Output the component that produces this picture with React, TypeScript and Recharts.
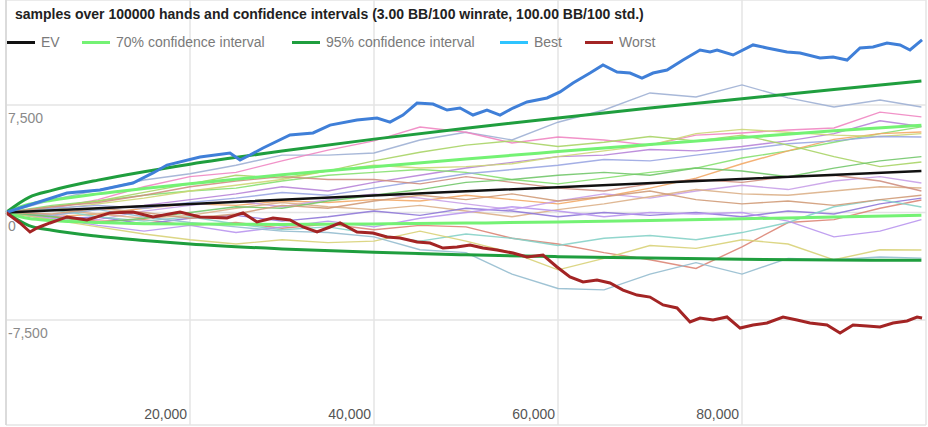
import React from 'react';
import { LineChart, Line, XAxis, YAxis, CartesianGrid } from 'recharts';

const TITLE = 'samples over 100000 hands and confidence intervals (3.00 BB/100 winrate, 100.00 BB/100 std.)';

const xTicks = [20000, 40000, 60000, 80000];
const yTicks = [-7500, 0, 7500];

const hands = [0, 5000, 10000, 15000, 20000, 25000, 30000, 35000, 40000, 45000, 50000, 55000, 60000, 65000, 70000, 75000, 80000, 85000, 90000, 95000, 99500];

const sampleA = [0, 870, 1570, 2270, 2700, 3300, 4000, 4000, 4150, 5060, 5600, 5060, 6300, 7150, 8340, 8060, 8900, 8000, 7360, 7850, 7360];
const sampleB = [0, 300, 900, 1800, 2500, 2800, 3600, 4350, 5000, 5960, 5600, 4850, 5270, 5060, 4700, 5400, 5550, 5760, 5900, 7000, 6670];
const sampleC = [0, -200, 200, 500, 900, 1300, 1800, 1500, 2100, 2600, 3100, 3500, 3900, 4000, 4400, 4300, 4600, 5000, 5500, 6400, 6000];
const sampleD = [0, 500, 800, 1200, 1500, 1700, 2200, 2600, 2800, 3000, 2800, 2300, 2000, 2400, 2800, 3100, 3800, 4300, 4900, 5500, 5970];
const sampleE = [0, -300, -100, 300, 600, 500, 800, 700, 900, 800, 1200, 900, 600, 1100, 1700, 2400, 3400, 4300, 5100, 5500, 5620];
const sampleF = [0, 200, 600, 1000, 1500, 1900, 2300, 2900, 3300, 3100, 3200, 3400, 3900, 4300, 4700, 5500, 5800, 5600, 5400, 5300, 5500];
const sampleG = [0, 300, 500, 300, 700, 1000, 1400, 1200, 1700, 2200, 2700, 3000, 3300, 3700, 3600, 4000, 4400, 4800, 5000, 5300, 5270];
const sampleH = [0, 400, 800, 1400, 2000, 2600, 2400, 2900, 3600, 4200, 4700, 5000, 4600, 4900, 5300, 5000, 5400, 4700, 3900, 3200, 3520];
const sampleI = [0, -200, -500, 100, 500, 800, 400, 900, 1300, 1000, 600, 200, 800, 1300, 1000, 1500, 1900, 1600, 2200, 2500, 2060];
const sampleJ = [0, 200, -100, -400, -200, 300, 700, 400, 200, 500, 100, -300, 200, 600, 1100, 1600, 1300, 1200, 1500, 1800, 1710];
const sampleK = [0, -300, -600, -500, -900, -700, -1100, -800, -1200, -900, -1000, -1800, -2200, -2800, -3300, -3900, -2400, -700, -500, 300, 870];
const sampleL = [0, 400, 700, 1200, 1800, 2200, 2500, 2300, 2300, 2000, 2500, 2100, 1700, 1500, 2000, 2300, 2100, 2500, 2600, 2200, 1500];
const sampleM = [0, -500, -300, -800, -400, -200, -600, -300, 100, -200, 300, 100, -300, 0, -200, 0, -300, 100, -100, 600, 1000];
const sampleN = [0, 200, -300, -600, -300, -800, -1200, -1000, -1500, -2000, -1500, -1800, -2300, -1800, -1600, -1900, -1400, -700, 400, 900, 380];
const sampleO = [0, -400, -900, -1300, -900, -1400, -1000, -600, -1000, -400, 0, 400, 100, -300, 0, -100, 0, -600, -1700, -1300, -500];
const sampleP = [0, -500, -1000, -1500, -1900, -2200, -1900, -2100, -2000, -1300, -2000, -2800, -4000, -3200, -2300, -2500, -1900, -2200, -3300, -2600, -2620];
const sampleQ = [0, -200, 200, -300, -700, -1000, -1300, -1400, -1700, -2600, -2800, -4300, -5300, -5400, -4300, -3500, -4300, -3200, -3300, -3100, -3180];
const sampleR = [0, -300, -700, -400, 0, 400, 300, 800, 1200, 1600, 2100, 2300, 2600, 2800, 2600, 3100, 2900, 2500, 3100, 3600, 3900];
const sampleS = [0, -100, 300, 0, -400, -100, 500, 300, 800, 1200, 900, 1300, 800, 1100, 1500, 900, 600, 800, 500, 900, 1200];

const thinSeries = [
  { name: 's1', color: '#9fb0d4', values: sampleA },
  { name: 's2', color: '#ef86c2', values: sampleB },
  { name: 's3', color: '#b784d8', values: sampleC },
  { name: 's4', color: '#86e070', values: sampleD },
  { name: 's5', color: '#f3a866', values: sampleE },
  { name: 's6', color: '#cdd676', values: sampleF },
  { name: 's7', color: '#9aa6e2', values: sampleG },
  { name: 's8', color: '#a9d466', values: sampleH },
  { name: 's9', color: '#c8a0e8', values: sampleI },
  { name: 's10', color: '#dcb088', values: sampleJ },
  { name: 's11', color: '#dc8575', values: sampleK },
  { name: 's12', color: '#cf8f80', values: sampleL },
  { name: 's13', color: '#8f78d8', values: sampleM },
  { name: 's14', color: '#86d2c8', values: sampleN },
  { name: 's15', color: '#b996ee', values: sampleO },
  { name: 's16', color: '#d8d178', values: sampleP },
  { name: 's17', color: '#95bccf', values: sampleQ },
  { name: 's18', color: '#72c66a', values: sampleR },
  { name: 's19', color: '#d09b78', values: sampleS },
];

const bestHands = [0, 6630, 10220, 13800, 15980, 17500, 21090, 24350, 25440, 26520, 27940, 30870, 33370, 35220, 38150, 40330, 41740, 43150, 44680, 46410, 47940, 49350, 50760, 52280, 53700, 55110, 56630, 58810, 60220, 61630, 63480, 64890, 66420, 67830, 69130, 70330, 71850, 73590, 75440, 76530, 77290, 79030, 81200, 82720, 84890, 86310, 88480, 89900, 91420, 92830, 94240, 95760, 97180, 98260, 99570];
const bestValues = [0, 1360, 1570, 2060, 2760, 3310, 3870, 4150, 3660, 4010, 4500, 5410, 5550, 6100, 6450, 6590, 6310, 6800, 7640, 7570, 7150, 7290, 6800, 7150, 6800, 7290, 7710, 7990, 8410, 9040, 9730, 10290, 9800, 9730, 9380, 9730, 9940, 10640, 11340, 11200, 11340, 10990, 11690, 11480, 11200, 11130, 10780, 10850, 10640, 11480, 11550, 11830, 11690, 11340, 12040];

const worstHands = [0, 1520, 2610, 3370, 4780, 6630, 8800, 11300, 13800, 15980, 18910, 21090, 24020, 25760, 27280, 29020, 30870, 32280, 33810, 35220, 36310, 38150, 39890, 41410, 42830, 44680, 46090, 47500, 49020, 50440, 51850, 53370, 55110, 56630, 58370, 59890, 61300, 62720, 64240, 65650, 67070, 68590, 70000, 71420, 72940, 74350, 75440, 76850, 78370, 79790, 81200, 82720, 84460, 85980, 87390, 89240, 90660, 92070, 93590, 95000, 96420, 97940, 99030, 99570];
const worstValues = [0, -730, -1360, -1080, -730, -310, -520, -30, 30, -310, 30, -310, -380, -30, -660, -380, -520, -1010, -1360, -1010, -730, -1360, -1430, -1710, -1780, -2060, -2130, -2480, -2410, -2270, -2480, -2620, -2830, -3100, -2970, -3800, -4500, -4850, -4710, -4920, -5410, -5760, -5900, -6450, -6660, -7640, -7360, -7500, -7290, -8060, -7850, -7710, -7290, -7500, -7710, -7850, -8410, -7850, -7920, -7990, -7710, -7570, -7290, -7360];

const ciHands = [0, 2500, 5000, 10000, 15000, 20000, 30000, 40000, 50000, 60000, 70000, 80000, 90000, 99500];
const ci95Upper = [0, 1060, 1540, 2260, 2850, 3370, 4290, 5120, 5880, 6600, 7290, 7940, 8580, 9170];
const ci95Lower = [0, -910, -1240, -1660, -1950, -2200, -2540, -2780, -2950, -3080, -3180, -3260, -3310, -3340];
const ci70Upper = [0, 575, 860, 1300, 1670, 2010, 2630, 3200, 3740, 4250, 4750, 5230, 5700, 6080];
const ci70Lower = [0, -425, -560, -700, -780, -810, -830, -800, -740, -660, -560, -440, -310, -190];

const evHands = [0, 50000, 99500];
const evValues = [0, 1480, 2900];

const toPoints = (xs: number[], ys: number[]) => xs.map((h, i) => ({ h, v: ys[i] }));

const legendItems = [
  { label: 'EV', color: '#111111', left: 7 },
  { label: '70% confidence interval', color: '#74f274', left: 82 },
  { label: '95% confidence interval', color: '#1f9e3e', left: 292 },
  { label: 'Best', color: '#2ec4ff', left: 500 },
  { label: 'Worst', color: '#a32424', left: 585 },
];

const FONT = '"Liberation Sans", Arial, sans-serif';

const renderXTick = (props: any) => {
  const { x, y, payload } = props;
  return (
    <text key={`xt-${payload.value}`} x={x - 3} y={y - 14} textAnchor="end" fill="#555" fontSize={14} fontFamily={FONT}>
      {Number(payload.value).toLocaleString('en-US')}
    </text>
  );
};

const renderYTick = (props: any) => {
  const { y, payload } = props;
  return (
    <text key={`yt-${payload.value}`} x={8} y={y + 18} textAnchor="start" fill="#8a8a8a" fontSize={14} fontFamily={FONT}>
      {Number(payload.value).toLocaleString('en-US')}
    </text>
  );
};

export default function App() {
  return (
    <div style={{ position: 'relative', width: 928, height: 427, background: '#fff', fontFamily: FONT, overflow: 'hidden' }}>
      <style>{'body{margin:0;background:#fff;}'}</style>
      <LineChart width={928} height={427} margin={{ top: 0, right: 2, bottom: 1, left: 5 }}>
        <CartesianGrid stroke="#e4e4e4" strokeWidth={1.5} />
        <XAxis
          type="number"
          dataKey="h"
          domain={[0, 100000]}
          ticks={xTicks}
          height={1}
          axisLine={false}
          tickLine={false}
          tick={renderXTick}
          allowDuplicatedCategory={false}
        />
        <YAxis
          type="number"
          dataKey="v"
          domain={[-14826, 14826]}
          ticks={yTicks}
          width={1}
          axisLine={{ stroke: '#d6d6d6', strokeWidth: 1.5 }}
          tickLine={false}
          tick={renderYTick}
        />
        {thinSeries.map((s) => (
          <Line
            key={s.name}
            data={toPoints(hands, s.values)}
            dataKey="v"
            type="linear"
            stroke={s.color}
            strokeWidth={1.4}
            strokeOpacity={0.9}
            dot={false}
            isAnimationActive={false}
          />
        ))}
        <Line data={toPoints(ciHands, ci70Upper)} dataKey="v" type="monotone" stroke="#74f274" strokeWidth={3} dot={false} isAnimationActive={false} />
        <Line data={toPoints(ciHands, ci70Lower)} dataKey="v" type="monotone" stroke="#74f274" strokeWidth={3} dot={false} isAnimationActive={false} />
        <Line data={toPoints(ciHands, ci95Upper)} dataKey="v" type="monotone" stroke="#1f9e3e" strokeWidth={3} dot={false} isAnimationActive={false} />
        <Line data={toPoints(ciHands, ci95Lower)} dataKey="v" type="monotone" stroke="#1f9e3e" strokeWidth={3} dot={false} isAnimationActive={false} />
        <Line data={toPoints(evHands, evValues)} dataKey="v" type="linear" stroke="#111111" strokeWidth={2.5} dot={false} isAnimationActive={false} />
        <Line data={toPoints(bestHands, bestValues)} dataKey="v" type="linear" stroke="#3f7fd8" strokeWidth={3} dot={false} isAnimationActive={false} />
        <Line data={toPoints(worstHands, worstValues)} dataKey="v" type="linear" stroke="#a32424" strokeWidth={3} dot={false} isAnimationActive={false} />
      </LineChart>
      <div style={{ position: 'absolute', left: 15, top: 6, fontSize: 14, fontWeight: 'bold', color: '#222', whiteSpace: 'nowrap' }}>
        {TITLE}
      </div>
      {legendItems.map((it) => (
        <div key={it.label} style={{ position: 'absolute', left: it.left, top: 33, height: 18, display: 'flex', alignItems: 'center', whiteSpace: 'nowrap' }}>
          <div style={{ width: 28, height: 3, background: it.color, marginRight: 6 }} />
          <span style={{ fontSize: 14, color: '#7a7a7a' }}>{it.label}</span>
        </div>
      ))}
    </div>
  );
}
